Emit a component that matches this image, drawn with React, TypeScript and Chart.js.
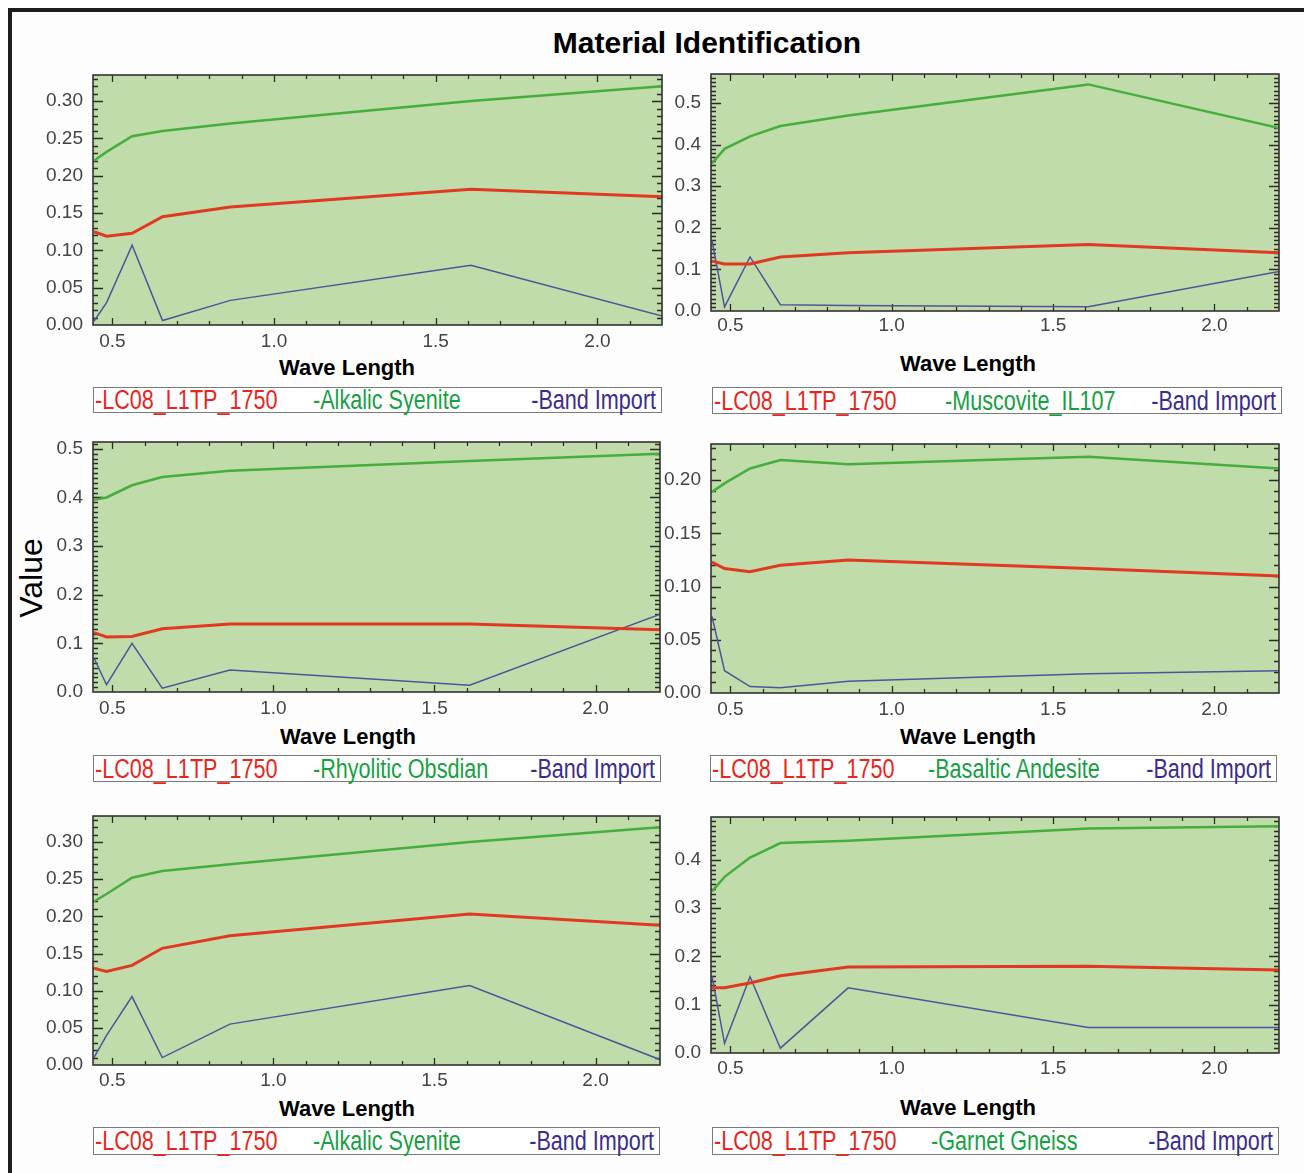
import React, { useEffect, useRef } from "react";
import { Chart, registerables } from "chart.js";

Chart.register(...registerables);

// ---------------- data ----------------
const WAVELENGTHS = [0.443, 0.482, 0.561, 0.655, 0.865, 1.609, 2.201];
const X_TICKS = [0.5, 1.0, 1.5, 2.0];
const X_MIN = 0.44;
const X_MAX = 2.2;

const MAIN_TITLE = "Material Identification";
const Y_TITLE = "Value";
const X_TITLE = "Wave Length";
const SCENE_NAME = "LC08_L1TP_1750";
const BAND_NAME = "Band Import";
const MATERIAL_NAMES = [
  "Alkalic Syenite",
  "Muscovite_IL107",
  "Rhyolitic Obsdian",
  "Basaltic Andesite",
  "Alkalic Syenite",
  "Garnet Gneiss",
];

// panel 1 – Alkalic Syenite
const SCENE_1 = [0.125, 0.119, 0.123, 0.145, 0.158, 0.182, 0.172];
const MATERIAL_1 = [0.22, 0.232, 0.253, 0.26, 0.27, 0.3, 0.32];
const BAND_1 = [0.005, 0.03, 0.107, 0.006, 0.033, 0.08, 0.012];
const Y_TICKS_1 = [0, 0.05, 0.1, 0.15, 0.2, 0.25, 0.3];

// panel 2 – Muscovite_IL107
const SCENE_2 = [0.12, 0.113, 0.113, 0.13, 0.14, 0.16, 0.14];
const MATERIAL_2 = [0.355, 0.39, 0.42, 0.445, 0.47, 0.545, 0.44];
const BAND_2 = [0.17, 0.01, 0.13, 0.015, 0.013, 0.01, 0.095];
const Y_TICKS_2 = [0, 0.1, 0.2, 0.3, 0.4, 0.5];

// panel 3 – Rhyolitic Obsdian
const SCENE_3 = [0.122, 0.113, 0.114, 0.13, 0.14, 0.14, 0.128];
const MATERIAL_3 = [0.395, 0.4, 0.425, 0.442, 0.455, 0.475, 0.49];
const BAND_3 = [0.07, 0.015, 0.1, 0.008, 0.045, 0.014, 0.16];
const Y_TICKS_3 = [0, 0.1, 0.2, 0.3, 0.4, 0.5];

// panel 4 – Basaltic Andesite
const SCENE_4 = [0.123, 0.117, 0.114, 0.12, 0.125, 0.117, 0.11];
const MATERIAL_4 = [0.189, 0.197, 0.211, 0.219, 0.215, 0.222, 0.211];
const BAND_4 = [0.072, 0.021, 0.006, 0.005, 0.011, 0.018, 0.021];
const Y_TICKS_4 = [0, 0.05, 0.1, 0.15, 0.2];

// panel 5 – Alkalic Syenite
const SCENE_5 = [0.13, 0.126, 0.134, 0.157, 0.174, 0.203, 0.188];
const MATERIAL_5 = [0.22, 0.23, 0.252, 0.261, 0.27, 0.3, 0.32];
const BAND_5 = [0.01, 0.04, 0.092, 0.01, 0.055, 0.107, 0.007];
const Y_TICKS_5 = [0, 0.05, 0.1, 0.15, 0.2, 0.25, 0.3];

// panel 6 – Garnet Gneiss
const SCENE_6 = [0.135, 0.135, 0.145, 0.16, 0.178, 0.18, 0.172];
const MATERIAL_6 = [0.335, 0.365, 0.405, 0.435, 0.44, 0.465, 0.47];
const BAND_6 = [0.16, 0.02, 0.158, 0.01, 0.135, 0.053, 0.053];
const Y_TICKS_6 = [0, 0.1, 0.2, 0.3, 0.4];

const Y_MAX = [0.335, 0.57, 0.514, 0.234, 0.335, 0.489];

const SCENES = [SCENE_1, SCENE_2, SCENE_3, SCENE_4, SCENE_5, SCENE_6];
const MATERIALS = [MATERIAL_1, MATERIAL_2, MATERIAL_3, MATERIAL_4, MATERIAL_5, MATERIAL_6];
const BANDS = [BAND_1, BAND_2, BAND_3, BAND_4, BAND_5, BAND_6];
const Y_TICKS = [Y_TICKS_1, Y_TICKS_2, Y_TICKS_3, Y_TICKS_4, Y_TICKS_5, Y_TICKS_6];

// ---------------- styles / layout ----------------
const PLOT_BG = "#c1dcab";
const RED = "#e1391f";
const GREEN = "#45ae3c";
const PURPLE = "#52529a";
const LEG_RED = "#e8261c";
const LEG_GREEN = "#18a043";
const LEG_PURPLE = "#3b2d8f";
const TICK_COLOR = "#2a2a2a";
const LABEL_COLOR = "#444444";
const SANS = '"Liberation Sans", Arial, Helvetica, sans-serif';

const PAD_LEFT = 75;
const PAD_TOP = 26;
const PAD_RIGHT = 8;
const X_AXIS_H = 30;

const BOXES = [
  { L: 93, T: 75, R: 662, B: 325, lp: 5, tx: 347, ty: 368, gl: 93, gr: 662, gt: 387, gb: 413, gx: 219 },
  { L: 711, T: 74, R: 1279, B: 311, lp: 3, tx: 968, ty: 364, gl: 712, gr: 1282, gt: 387, gb: 414, gx: 232 },
  { L: 93, T: 442, R: 660, B: 692, lp: 5, tx: 348, ty: 737, gl: 93, gr: 661, gt: 755, gb: 782, gx: 219 },
  { L: 711, T: 444, R: 1279, B: 693, lp: 5, tx: 968, ty: 737, gl: 710, gr: 1277, gt: 755, gb: 782, gx: 217 },
  { L: 93, T: 816, R: 660, B: 1065, lp: 4, tx: 347, ty: 1109, gl: 93, gr: 660, gt: 1127, gb: 1155, gx: 219 },
  { L: 711, T: 817, R: 1279, B: 1053, lp: 4, tx: 968, ty: 1108, gl: 712, gr: 1279, gt: 1127, gb: 1155, gx: 218 },
];

const framePlugin = {
  id: "frame",
  beforeDatasetsDraw(chart: any, _args: any, opts: any) {
    const { ctx, chartArea: a, scales } = chart;
    const x = scales.x;
    const y = scales.y;
    ctx.save();
    ctx.fillStyle = PLOT_BG;
    ctx.fillRect(a.left, a.top, a.right - a.left, a.bottom - a.top);
    ctx.strokeStyle = TICK_COLOR;
    ctx.lineWidth = 1.3;
    ctx.beginPath();
    for (let k = 5; k <= 22; k++) {
      const px = Math.round(x.getPixelForValue(k / 10)) + 0.5;
      if (px >= a.right - 1) continue;
      const len = k % 5 === 0 ? 7 : 4;
      ctx.moveTo(px, a.bottom);
      ctx.lineTo(px, a.bottom - len);
      ctx.moveTo(px, a.top);
      ctx.lineTo(px, a.top + len);
    }
    const majorEvery = Math.round(opts.yStep * 100);
    const kmax = Math.floor(opts.yMax * 100);
    for (let k = 1; k <= kmax; k++) {
      const py = Math.round(y.getPixelForValue(k / 100)) + 0.5;
      const len = k % majorEvery === 0 ? 10 : 5;
      ctx.moveTo(a.left, py);
      ctx.lineTo(a.left + len, py);
      ctx.moveTo(a.right, py);
      ctx.lineTo(a.right - len, py);
    }
    ctx.stroke();
    ctx.restore();
  },
  afterDatasetsDraw(chart: any) {
    const { ctx, chartArea: a } = chart;
    ctx.save();
    ctx.strokeStyle = "#333333";
    ctx.lineWidth = 1.6;
    ctx.strokeRect(a.left, a.top, a.right - a.left, a.bottom - a.top);
    ctx.restore();
  },
};

function toPoints(ys: number[]) {
  return ys.map((v, i) => ({ x: WAVELENGTHS[i], y: v }));
}

const legendSpan = (color: string): React.CSSProperties => ({
  position: "absolute",
  top: "50%",
  color,
  lineHeight: 1,
  font: `27px ${SANS}`,
  whiteSpace: "nowrap",
});

function Panel({ idx }: { idx: number }) {
  const ref = useRef<HTMLCanvasElement>(null);
  const b = BOXES[idx];
  const width = b.R - b.L + PAD_LEFT + PAD_RIGHT;
  const height = b.B - b.T + PAD_TOP + X_AXIS_H;
  const yTicks = Y_TICKS[idx];
  const yStep = yTicks[1] - yTicks[0];
  const dec = yStep < 0.1 - 1e-9 ? 2 : 1;

  useEffect(() => {
    const chart = new Chart(ref.current as HTMLCanvasElement, {
      type: "line",
      data: {
        datasets: [
          {
            label: SCENE_NAME,
            data: toPoints(SCENES[idx]),
            borderColor: RED,
            borderWidth: 3,
            pointRadius: 0,
            tension: 0,
          },
          {
            label: MATERIAL_NAMES[idx],
            data: toPoints(MATERIALS[idx]),
            borderColor: GREEN,
            borderWidth: 2.5,
            pointRadius: 0,
            tension: 0,
          },
          {
            label: BAND_NAME,
            data: toPoints(BANDS[idx]),
            borderColor: PURPLE,
            borderWidth: 1.5,
            pointRadius: 0,
            tension: 0,
          },
        ],
      },
      options: {
        responsive: false,
        animation: false,
        devicePixelRatio: 1,
        layout: { padding: { left: 0, top: PAD_TOP, right: PAD_RIGHT, bottom: 0 } },
        plugins: {
          legend: { display: false },
          tooltip: { enabled: false },
          frame: { yStep, yMax: Y_MAX[idx] },
        } as any,
        scales: {
          x: {
            type: "linear",
            min: X_MIN,
            max: X_MAX,
            afterBuildTicks: (s: any) => {
              s.ticks = X_TICKS.map((v) => ({ value: v }));
            },
            afterFit: (s: any) => {
              s.height = X_AXIS_H;
            },
            ticks: {
              autoSkip: false,
              maxRotation: 0,
              padding: b.lp,
              color: LABEL_COLOR,
              font: { family: SANS, size: 19 },
              callback: (v: any) => Number(v).toFixed(1),
            },
            grid: { display: false, drawTicks: false },
            border: { display: false },
          },
          y: {
            type: "linear",
            min: 0,
            max: Y_MAX[idx],
            afterBuildTicks: (s: any) => {
              s.ticks = yTicks.map((v) => ({ value: v }));
            },
            afterFit: (s: any) => {
              s.width = PAD_LEFT;
            },
            ticks: {
              autoSkip: false,
              padding: 10,
              color: LABEL_COLOR,
              font: { family: SANS, size: 19 },
              callback: (v: any) => Number(v).toFixed(dec),
            },
            grid: { display: false, drawTicks: false },
            border: { display: false },
          },
        },
      },
      plugins: [framePlugin as any],
    });
    return () => chart.destroy();
  }, []);

  return (
    <>
      <canvas
        ref={ref}
        width={width}
        height={height}
        style={{
          position: "absolute",
          left: b.L - PAD_LEFT,
          top: b.T - PAD_TOP,
          width,
          height,
        }}
      />
      <div
        style={{
          position: "absolute",
          left: b.tx,
          top: b.ty,
          transform: "translate(-50%, -50%)",
          font: `bold 22px ${SANS}`,
          color: "#000",
          whiteSpace: "nowrap",
        }}
      >
        {X_TITLE}
      </div>
      <div
        style={{
          position: "absolute",
          left: b.gl,
          top: b.gt,
          width: b.gr - b.gl,
          height: b.gb - b.gt,
          boxSizing: "border-box",
          border: "1.5px solid #7a7a7a",
          background: "#ffffff",
        }}
      >
        <span style={{ ...legendSpan(LEG_RED), left: 1, transform: "translateY(-50%) scaleX(0.8)", transformOrigin: "left center" }}>
          -{SCENE_NAME}
        </span>
        <span style={{ ...legendSpan(LEG_GREEN), left: b.gx, transform: "translateY(-50%) scaleX(0.8)", transformOrigin: "left center" }}>
          -{MATERIAL_NAMES[idx]}
        </span>
        <span style={{ ...legendSpan(LEG_PURPLE), right: 5, transform: "translateY(-50%) scaleX(0.8)", transformOrigin: "right center" }}>
          -{BAND_NAME}
        </span>
      </div>
    </>
  );
}

export default function App() {
  return (
    <div
      style={{
        position: "absolute",
        left: 0,
        top: 0,
        width: 1304,
        height: 1173,
        background: "#ffffff",
        overflow: "hidden",
      }}
    >
      <div
        style={{
          position: "absolute",
          left: 8,
          top: 8,
          width: 1320,
          height: 1200,
          boxSizing: "border-box",
          border: "4px solid #1e1e1e",
          background: "#fdfdfd",
        }}
      />
      <div
        style={{
          position: "absolute",
          left: 707,
          top: 43,
          transform: "translate(-50%, -50%)",
          font: `bold 30px ${SANS}`,
          color: "#000",
          whiteSpace: "nowrap",
        }}
      >
        {MAIN_TITLE}
      </div>
      <div
        style={{
          position: "absolute",
          left: 31,
          top: 578,
          transform: "translate(-50%, -50%) rotate(-90deg)",
          font: `32px ${SANS}`,
          color: "#000",
          whiteSpace: "nowrap",
        }}
      >
        {Y_TITLE}
      </div>
      {BOXES.map((_, i) => (
        <Panel key={i} idx={i} />
      ))}
    </div>
  );
}
